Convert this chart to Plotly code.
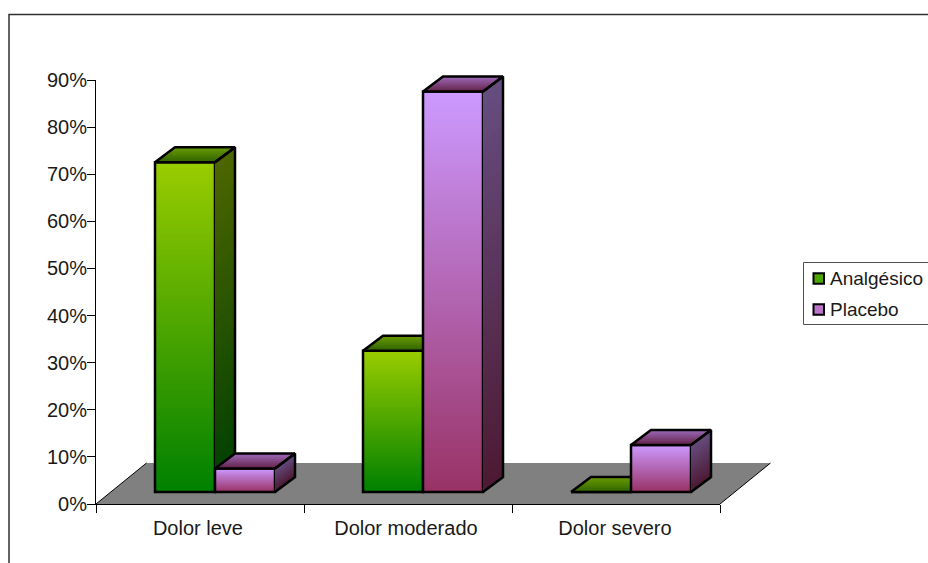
import plotly.graph_objects as go

categories = ["Dolor leve", "Dolor moderado", "Dolor severo"]
analgesico = [70, 30, 0]
placebo = [5, 85, 10]
y_ticks = [0, 10, 20, 30, 40, 50, 60, 70, 80, 90]
series_names = ["Analgésico", "Placebo"]

# pixel frame of the axes
L, R, T, B = 96, 720, 80, 504
TOP = 40  # top of the taller drawing area that holds the placebo boxes
W, H = 928, 563
CAT_PX = (R - L) / 3
UNIT_PX = (B - T) / 90
BAR_W = 60 / CAT_PX
BAR_LEFT = 59 / CAT_PX
DX = 20 / CAT_PX
DY = 15 / UNIT_PX
BASE = 12 / UNIT_PX
FLOOR_DX = 50.5 / CAT_PX
FLOOR_DY = 41 / UNIT_PX
FONT = "Liberation Sans, Arial, sans-serif"
TEXT = "#1a1a1a"
OUTLINE = 2.5
N_FRONT = 110
N = 48
NTOP = 8

STYLE = {
    "Analgésico": dict(front=("#99CC00", "#008000"), side=("#4D6600", "#004000"), top=("#669900", "#336600")),
    "Placebo": dict(front=("#CC99FF", "#993366"), side=("#664D80", "#4D1A33"), top=("#9966B3", "#66264D")),
}


def mix(c0, c1, t):
    a = [int(c0[i:i + 2], 16) for i in (1, 3, 5)]
    b = [int(c1[i:i + 2], 16) for i in (1, 3, 5)]
    return "rgb(%d,%d,%d)" % tuple(round(a[i] + (b[i] - a[i]) * t) for i in range(3))


fig = go.Figure()


def add_series(name, values, slot, xa, ya):
    st = STYLE[name]
    # front faces: gradient bars, painted tall to short
    xs, ws, bases, ys, cols = [], [], [], [], []
    for i, v in enumerate(values):
        if v <= 0:
            continue
        cx = i + BAR_LEFT + BAR_W * (slot + 0.5)
        for k in range(N_FRONT):
            t = k / (N_FRONT - 1)
            xs.append(cx)
            ws.append(BAR_W)
            bases.append(BASE)
            ys.append(v * (1 - k / N_FRONT))
            cols.append(mix(*st["front"], t))
    fig.add_trace(go.Bar(x=xs, y=ys, base=bases, width=ws, marker=dict(color=cols, line=dict(width=0)),
                         xaxis=xa, yaxis=ya, showlegend=False, hoverinfo="skip", cliponaxis=False))
    # front outline: the value bars themselves
    fig.add_trace(go.Bar(x=[i + BAR_LEFT + BAR_W * (slot + 0.5) for i in range(3)], y=values,
                         base=[BASE] * 3, width=[BAR_W] * 3, name=name,
                         marker=dict(color="rgba(0,0,0,0)", line=dict(color="black", width=OUTLINE)),
                         xaxis=xa, yaxis=ya, showlegend=False, cliponaxis=False,
                         hovertemplate=name + ": %{y}%<extra></extra>"))
    ox, oy = [], []
    for i, v in enumerate(values):
        x0 = i + BAR_LEFT + BAR_W * slot
        x1 = x0 + BAR_W
        top = BASE + v
        # side face
        if v > 0:
            for k in range(N):
                yk = BASE + v * (1 - k / N)
                fig.add_trace(go.Scatter(
                    x=[x1, x1 + DX, x1 + DX, x1, x1], y=[yk, yk + DY, BASE + DY, BASE, yk],
                    mode="none", fill="toself", fillcolor=mix(*st["side"], k / (N - 1)),
                    xaxis=xa, yaxis=ya, showlegend=False, hoverinfo="skip", cliponaxis=False))
        # top face
        for k in range(NTOP):
            f = 1 - k / NTOP
            fig.add_trace(go.Scatter(
                x=[x0, x0 + DX * f, x1 + DX * f, x1, x0], y=[top, top + DY * f, top + DY * f, top, top],
                mode="none", fill="toself", fillcolor=mix(*st["top"], k / (NTOP - 1)),
                xaxis=xa, yaxis=ya, showlegend=False, hoverinfo="skip", cliponaxis=False))
        ox += [x0, x0 + DX, x1 + DX, x1, x0, None]
        oy += [top, top + DY, top + DY, top, top, None]
        if v > 0:
            ox += [x1, x1 + DX, x1 + DX, x1, None]
            oy += [top, top + DY, BASE + DY, BASE, None]
    fig.add_trace(go.Scatter(x=ox, y=oy, mode="lines", line=dict(color="black", width=OUTLINE),
                             xaxis=xa, yaxis=ya, showlegend=False, hoverinfo="skip", cliponaxis=False))


add_series(series_names[0], analgesico, 0, "x", "y")
add_series(series_names[1], placebo, 1, "x2", "y2")


def px(x):
    return (x - L) / (R - L)


def py(y):
    return (B - y) / (B - TOP)


fx = lambda c: px(L + c * CAT_PX)
fy = lambda v: py(B - v * UNIT_PX)

shapes = [
    # floor
    dict(type="path", xref="paper", yref="paper", layer="below", line=dict(width=0), fillcolor="#808080",
         path=f"M {fx(0)} {fy(0)} L {fx(3)} {fy(0)} L {fx(3 + FLOOR_DX)} {fy(FLOOR_DY)} L {fx(FLOOR_DX)} {fy(FLOOR_DY)} Z"),
    dict(type="path", xref="paper", yref="paper", layer="below", line=dict(color="black", width=1),
         path=f"M {fx(FLOOR_DX)} {fy(FLOOR_DY)} L {fx(0)} {fy(0)} M {fx(3)} {fy(0)} L {fx(3 + FLOOR_DX)} {fy(FLOOR_DY)}"),
    # chart frame, cut off by the window on the right and at the bottom
    dict(type="path", xref="paper", yref="paper", layer="below", line=dict(color="#303030", width=1.5),
         path=f"M {px(9)} {py(H + 5)} L {px(9)} {py(14.5)} L {px(W + 5)} {py(14.5)}"),
    # legend box
    dict(type="rect", xref="paper", yref="paper", layer="below", line=dict(color="#505050", width=1),
         fillcolor="white", x0=px(803.5), x1=px(W + 5), y0=py(324.5), y1=py(262.5)),
]
annotations = []
for name, yc, mid in zip(series_names, (278.5, 309.5), (0.5, 0.35)):
    st = STYLE[name]
    shapes.append(dict(type="rect", xref="paper", yref="paper", line=dict(color="black", width=2),
                       fillcolor=mix(*st["front"], mid), x0=px(813.5), x1=px(824),
                       y0=py(yc + 5.25), y1=py(yc - 5.25)))
    annotations.append(dict(text=name, xref="paper", yref="paper", x=px(828), y=py(yc), xanchor="left",
                            yanchor="middle", showarrow=False, font=dict(family=FONT, size=19, color=TEXT)))

main_dom = [0, (B - T) / (B - TOP)]
fig.update_layout(
    width=W, height=H, autosize=False, barmode="overlay", showlegend=False,
    paper_bgcolor="white", plot_bgcolor="rgba(0,0,0,0)",
    margin=dict(l=L, r=W - R, t=TOP, b=H - B, pad=0),
    shapes=shapes, annotations=annotations,
    xaxis=dict(range=[0, 3], domain=[0, 1], anchor="y", tickmode="array", tickvals=[0.49, 1.49, 2.495],
               ticktext=categories, ticks="outside", ticklen=8, ticklabelstandoff=-2,
               tickcolor="rgba(0,0,0,0)", showgrid=False, zeroline=False,
               showline=True, linecolor="black", linewidth=1, fixedrange=True,
               tickfont=dict(family=FONT, size=20, color=TEXT),
               minor=dict(tickmode="array", tickvals=[0, 1, 2, 3], ticks="outside", ticklen=8,
                          tickcolor="black", tickwidth=1, showgrid=False)),
    yaxis=dict(range=[0, 90], domain=main_dom, anchor="x", tickmode="array", tickvals=y_ticks,
               ticktext=[f"{v}%" for v in y_ticks], ticklabelstandoff=-4,
               ticks="outside", ticklen=8, tickcolor="black", tickwidth=1, showgrid=False, zeroline=False,
               showline=True, linecolor="black", linewidth=1, fixedrange=True,
               tickfont=dict(family=FONT, size=20, color=TEXT)),
    xaxis2=dict(range=[0, 3], domain=[0, 1], anchor="y2", visible=False, fixedrange=True),
    yaxis2=dict(range=[0, (B - TOP) / UNIT_PX], domain=[0, 1], anchor="x2", visible=False, fixedrange=True),
)

fig.write_html("out.html", config={"displayModeBar": False}, post_script="document.body.style.margin='0';")
